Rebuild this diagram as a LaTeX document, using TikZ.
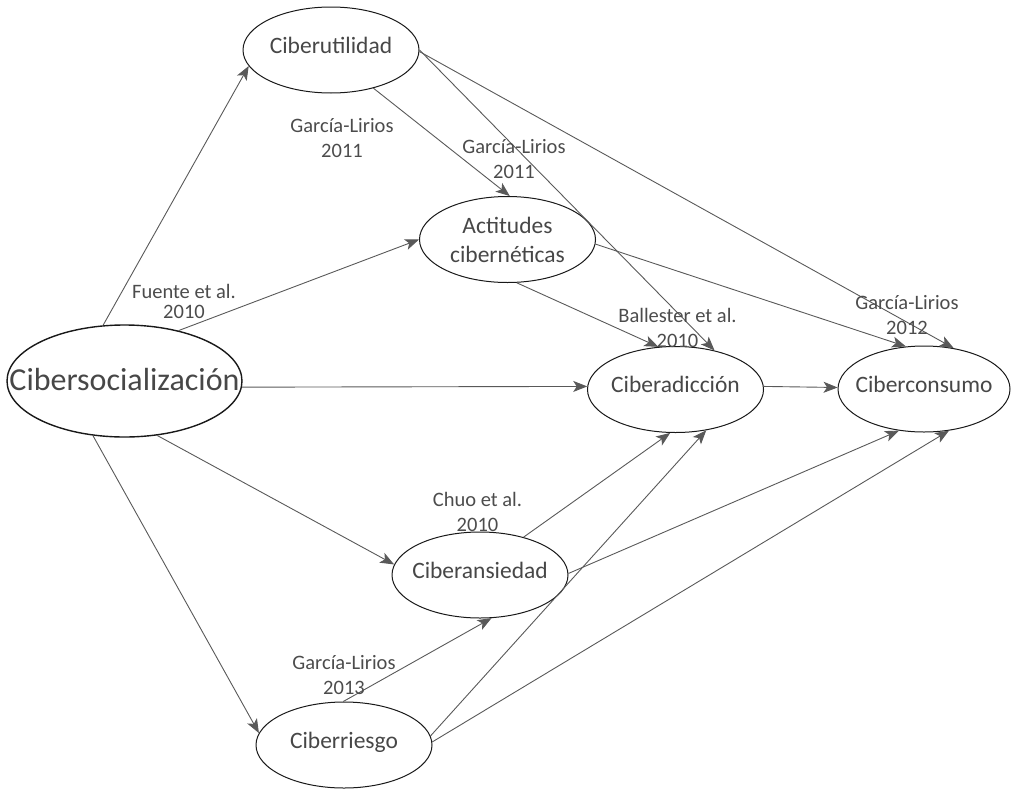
\documentclass[tikz,border=0pt]{standalone}
\usepackage{fontspec}
\setmainfont{Carlito}
\usetikzlibrary{shapes.geometric,arrows.meta}
\begin{document}
\begin{tikzpicture}[
		x=1pt, y=-1pt,
		concept/.style={ellipse, draw=black!90, line width=1pt,
			inner xsep=-40pt, inner ysep=0pt,
			minimum width=176pt, minimum height=86pt, text=black!72,
			font=\fontsize{23.5}{29}\selectfont,
			text height=16.5pt, text depth=10.5pt},
		cite/.style={align=center, inner sep=0pt, text=black!70,
			font=\fontsize{20.5}{25}\selectfont},
		link/.style={draw=black!65, line width=0.9pt,
			-{Stealth[length=14pt,width=11pt,inset=3.5pt]}}
		]
		\useasboundingbox (0,0) rectangle (1011,790);
		
		% constructs
		\node[concept, minimum width=235pt, minimum height=112pt, line width=1.4pt,
			font=\fontsize{32}{38}\selectfont, text height=24pt, text depth=6pt]
			(soc) at (124.5,381) {Cibersocialización};
		\node[concept] (util) at (331,50) {Ciberutilidad};
		\node[concept, align=center, text height={}, text depth={}]
			(act) at (507.5,239.5) {Actitudes\\cibernéticas};
		\node[concept] (adic) at (675.5,389.5) {Ciberadicción};
		\node[concept, minimum width=172pt] (cons) at (924,389) {Ciberconsumo};
		\node[concept] (ans) at (480,575) {Ciberansiedad};
		\node[concept] (ries) at (344,745) {Ciberriesgo};
		
		% paths
		\draw[link] (soc.111) -- (util.191);
		\draw[link] (soc.43) -- (act.180);
		\draw[link] (soc.357) -- (adic.178);
		\draw[link] (soc.301) -- (ans.173);
		\draw[link] (soc.240) -- (ries.172);
		\draw[link] (util.318) -- (act.87);
		\draw[link] (util.0) -- (adic.45);
		\draw[link] (util.359) -- (cons.54);
		\draw[link] (act.282) -- (adic.112);
		\draw[link] (act.357) -- (cons.113);
		\draw[link] (adic.2) -- (cons.179);
		\draw[link] (ans.41) -- (adic.263);
		\draw[link] (ans.1) -- (cons.239);
		\draw[link] (ries.91) -- (ans.285);
		\draw[link] (ries.6) -- (adic.307);
		\draw[link] (ries.2) -- (cons.301);
		
		% sources
		\node[cite] (gl11a) at (342,138) {García-Lirios\\2011};
		\node[cite] (gl11b) at (514,158.6) {García-Lirios\\2011};
		\node[cite] (fuente) at (184,301.6) {Fuente et al.\\[-5pt]2010};
		\node[cite] (ball) at (677.5,328) {Ballester et al.\\2010};
		\node[cite] (gl12) at (907,315) {García-Lirios\\2012};
		\node[cite] (chuo) at (477.5,511.6) {Chuo et al.\\2010};
		\node[cite] (gl13) at (344,674.6) {García-Lirios\\2013};
		
	\end{tikzpicture}
\end{document}
